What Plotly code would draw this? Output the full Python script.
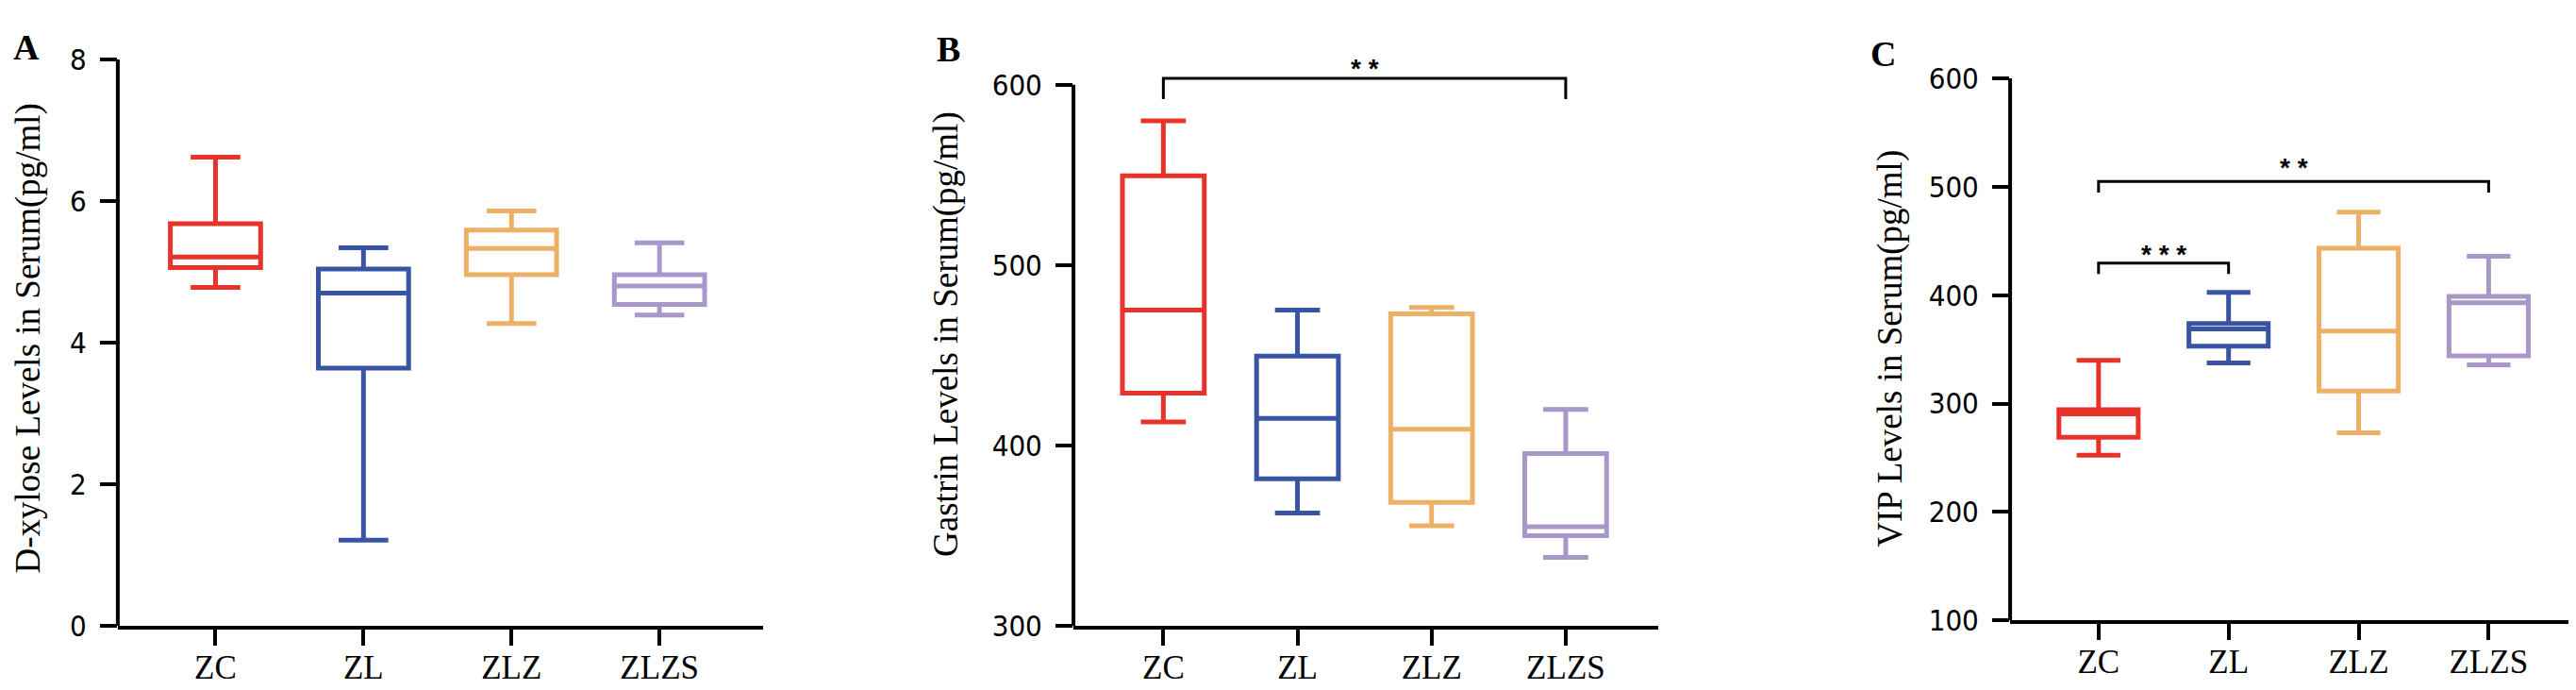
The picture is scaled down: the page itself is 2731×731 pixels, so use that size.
import plotly.graph_objects as go

categories = ["ZC", "ZL", "ZLZ", "ZLZS"]
colors = ["#E8332B", "#3A54A4", "#ECB067", "#A898CA"]

# A: D-xylose (min, q1, median, q3, max)
xylose_low = [4.78, 1.21, 4.27, 4.39]
xylose_q1 = [5.06, 3.64, 4.96, 4.54]
xylose_med = [5.21, 4.70, 5.33, 4.80]
xylose_q3 = [5.68, 5.04, 5.59, 4.96]
xylose_high = [6.62, 5.34, 5.86, 5.41]

# B: Gastrin
gastrin_low = [413, 362.5, 355.5, 338]
gastrin_q1 = [429, 381.5, 368.5, 350]
gastrin_med = [475, 415, 409, 355]
gastrin_q3 = [549.5, 449.5, 473, 395.5]
gastrin_high = [580, 475, 476.5, 420]

# C: VIP
vip_low = [252.5, 337.5, 273, 335.7]
vip_q1 = [269, 353, 311.7, 344]
vip_med = [290.5, 368.8, 366.8, 393]
vip_q3 = [294.5, 373.8, 443.3, 398.8]
vip_high = [340, 402.7, 476.7, 436]

# significance brackets: (panel, from, to, bar level, leg end, star level, label)
brackets = [
    (1, "ZC", "ZLZS", 603.5, 592, 611.4, "* *"),
    (2, "ZC", "ZL", 429.5, 419.5, 442, "* * *"),
    (2, "ZC", "ZLZS", 505, 494.6, 521.7, "* *"),
]

panels = [
    dict(low=xylose_low, q1=xylose_q1, med=xylose_med, q3=xylose_q3, high=xylose_high,
         title="D-xylose Levels in Serum(pg/ml)", letter="A",
         xdom=[0.0428, 0.2933], ydom=[0.0834, 0.9466], xr=[-0.66, 3.7], yr=[0, 8],
         ticks=[0, 2, 4, 6, 8], ytop=8, tpos=(0.0079, 0.521), lpos=(0.0073, 0.9658)),
    dict(low=gastrin_low, q1=gastrin_q1, med=gastrin_med, q3=gastrin_q3, high=gastrin_high,
         title="Gastrin Levels in Serum(pg/ml)", letter="B",
         xdom=[0.4138, 0.6408], ydom=[0.0834, 0.9496], xr=[-0.67, 3.69], yr=[300, 615],
         ticks=[300, 400, 500, 600], ytop=600, tpos=(0.3643, 0.528), lpos=(0.3651, 0.963)),
    dict(low=vip_low, q1=vip_q1, med=vip_med, q3=vip_q3, high=vip_high,
         title="VIP Levels in Serum(pg/ml)", letter="C",
         xdom=[0.7774, 0.9985], ydom=[0.0917, 0.9179], xr=[-0.68, 3.7], yr=[100, 600],
         ticks=[100, 200, 300, 400, 500, 600], ytop=600, tpos=(0.7309, 0.5055), lpos=(0.7283, 0.955)),
]

SERIF = "Liberation Serif, Times New Roman, serif"
NARROW = "Liberation Sans Narrow, DejaVu Sans Condensed, Arial Narrow, sans-serif"

fig = go.Figure()
shapes = []
annotations = []
layout = {}

for p, panel in enumerate(panels):
    sfx = "" if p == 0 else str(p + 1)
    for i, cat in enumerate(categories):
        fig.add_trace(go.Box(
            x=[cat],
            q1=[panel["q1"][i]], median=[panel["med"][i]], q3=[panel["q3"][i]],
            lowerfence=[panel["low"][i]], upperfence=[panel["high"][i]],
            xaxis="x" + sfx, yaxis="y" + sfx,
            line=dict(color=colors[i], width=5),
            fillcolor="rgba(255,255,255,0)",
            width=0.61, whiskerwidth=0.55,
            boxpoints=False, showlegend=False,
        ))
    layout["xaxis" + sfx] = dict(
        domain=panel["xdom"], anchor="y" + sfx, range=panel["xr"],
        type="category", categoryorder="array", categoryarray=categories,
        showline=True, linewidth=4, linecolor="black",
        ticks="outside", ticklen=17, tickwidth=4, tickcolor="black",
        tickfont=dict(family=SERIF, size=35, color="black"),
        ticklabelstandoff=-7, showgrid=False, zeroline=False,
    )
    layout["yaxis" + sfx] = dict(
        domain=panel["ydom"], anchor="x" + sfx, range=panel["yr"],
        tickvals=panel["ticks"], showline=False,
        ticks="outside", ticklen=18, tickwidth=4, tickcolor="black",
        tickfont=dict(family=NARROW, size=31, color="black"),
        ticklabelstandoff=8, showgrid=False, zeroline=False,
    )
    # y axis line stops at the top tick, like the original
    shapes.append(dict(type="line", xref="x" + sfx + " domain", yref="y" + sfx,
                       x0=0, x1=0, y0=panel["yr"][0], y1=panel["ytop"],
                       line=dict(color="black", width=4)))
    annotations.append(dict(text=panel["title"], textangle=-90, showarrow=False,
                            xref="paper", yref="paper", x=panel["tpos"][0], y=panel["tpos"][1],
                            xanchor="center", yanchor="middle",
                            font=dict(family=SERIF, size=37, color="black")))
    annotations.append(dict(text="<b>" + panel["letter"] + "</b>", showarrow=False,
                            xref="paper", yref="paper", x=panel["lpos"][0], y=panel["lpos"][1],
                            xanchor="center", yanchor="middle",
                            font=dict(family=SERIF, size=38, color="black")))

for p, c0, c1, top, leg, star_y, label in brackets:
    sfx = "" if p == 0 else str(p + 1)
    i0, i1 = categories.index(c0), categories.index(c1)
    shapes.append(dict(type="path", xref="x" + sfx, yref="y" + sfx,
                       path="M %d,%s L %d,%s L %d,%s L %d,%s" % (i0, leg, i0, top, i1, top, i1, leg),
                       line=dict(color="black", width=3)))
    annotations.append(dict(text="<b>" + label + "</b>", showarrow=False,
                            xref="x" + sfx, yref="y" + sfx, x=(i0 + i1) / 2, y=star_y,
                            xanchor="center", yanchor="middle", yshift=-5,
                            font=dict(family="Liberation Sans, Arial, sans-serif", size=28, color="black")))

fig.update_layout(
    width=2731, height=731,
    margin=dict(l=0, r=0, t=0, b=0),
    paper_bgcolor="white", plot_bgcolor="white",
    boxmode="overlay",
    shapes=shapes, annotations=annotations,
    **layout,
)

fig.write_html("out.html")
